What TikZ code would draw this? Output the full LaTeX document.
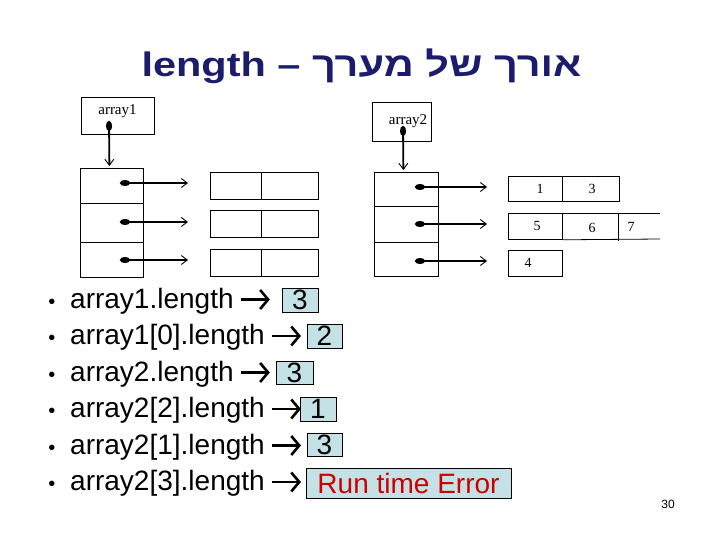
\documentclass[tikz,border=0pt]{standalone}
\usepackage{graphicx}
\usepackage{fontspec}
\setmainfont{Liberation Sans}
\newfontfamily\hebfont[Script=Hebrew]{Liberation Sans}
\newfontfamily\smallserif{Liberation Serif}
\TeXXeTstate=1
\usetikzlibrary{arrows.meta}
\definecolor{titleblue}{RGB}{28,28,108}
\definecolor{ansfill}{RGB}{196,226,230}
\definecolor{errred}{RGB}{204,0,0}
\begin{document}
\begin{tikzpicture}[x=1pt,y=-1pt,
  boxline/.style={draw=black, line width=0.8pt},
  cellbox/.style={boxline, inner sep=0pt, anchor=north west},
  serifnum/.style={font=\smallserif\fontsize{14}{14}\selectfont},
  ptr/.style={line width=1.8pt, {Ellipse[length=10pt,width=6pt]}-{Straight Barb[length=6pt,width=9pt,line width=0.9pt]}},
  textarrow/.style={line width=2.6pt, -{Straight Barb[length=8pt,width=19pt,line width=2.6pt]}},
  itemtext/.style={anchor=base west, inner sep=0pt, font=\fontsize{28}{28}\selectfont},
  bulletdot/.style={anchor=base, inner sep=0pt, font=\fontsize{20}{20}\selectfont},
  ans/.style={draw=black, line width=0.8pt, fill=ansfill, inner sep=0pt, font=\fontsize{28}{28}\selectfont}
]
\useasboundingbox (0,0) rectangle (720,540);

% title
\node[anchor=base, inner sep=0pt, text=titleblue, font=\hebfont\bfseries\fontsize{34}{40}\selectfont] (title) at (361.5,77)
  {\scalebox{1.22}[1]{\beginR אורך של מערך – \beginL length\endL\endR}};

% ---------- array1 ----------
\node[cellbox, minimum width=73pt, minimum height=37pt] (a1lbl) at (81,97) {};
\node[font=\smallserif\fontsize{15}{15}\selectfont, inner sep=0pt] (a1txt) at (117.5,111) {array1};
\node[cellbox, minimum width=63pt, minimum height=35pt] (a1c0) at (80,168) {};
\node[cellbox, minimum width=63pt, minimum height=39pt] (a1c1) at (80,203) {};
\node[cellbox, minimum width=63pt, minimum height=35pt] (a1c2) at (80,242) {};
\coordinate (a1dot) at (109,121);
\coordinate (a1top) at ([xshift=-2.5pt,yshift=2pt]a1c0.north);
\draw[ptr] (a1dot) -- (a1top);

\foreach \i/\y in {0/172,1/210,2/249}{
  \node[cellbox, minimum width=51pt, minimum height=27pt] (s1l\i) at (210,\y) {};
  \node[cellbox, minimum width=57pt, minimum height=27pt] (s1r\i) at (261,\y) {};
}
\foreach \i/\y in {0/183,1/222,2/260}{
  \coordinate (a1p\i) at (120,\y);
  \coordinate (a1q\i) at (188,\y);
  \draw[ptr] (a1p\i) -- (a1q\i);
}

% ---------- array2 ----------
\node[cellbox, minimum width=59pt, minimum height=39pt] (a2lbl) at (372,102) {};
\node[font=\smallserif\fontsize{15}{15}\selectfont, inner sep=0pt] (a2txt) at (408,121) {array2};
\node[cellbox, minimum width=64pt, minimum height=34pt] (a2c0) at (374,172) {};
\node[cellbox, minimum width=64pt, minimum height=36pt] (a2c1) at (374,206) {};
\node[cellbox, minimum width=64pt, minimum height=34pt] (a2c2) at (374,242) {};
\coordinate (a2dot) at (403,126);
\coordinate (a2top) at ([xshift=-3pt,yshift=2pt]a2c0.north);
\draw[ptr] (a2dot) -- (a2top);

\foreach \i/\y in {0/187,1/224,2/261}{
  \coordinate (a2p\i) at (415,\y);
  \coordinate (a2q\i) at (487,\y);
  \draw[ptr] (a2p\i) -- (a2q\i);
}
% row 0: 1 3
\node[cellbox, minimum width=54pt, minimum height=25pt] (s2a) at (508,176) {};
\node[cellbox, minimum width=57pt, minimum height=25pt] (s2b) at (562,176) {};
\node[serifnum] at (540,189) {1};
\node[serifnum] at (592,189) {3};
% row 1: 5 6 7 (open on the right)
\node[cellbox, minimum width=54pt, minimum height=26pt] (s2c) at (508,213) {};
\draw[boxline] (s2c.north east) -- (660,213);
\draw[boxline] (s2c.south east) -- (660,239);
\draw[boxline] (618,213) -- (618,241);
\node[serifnum] at (537,226) {5};
\node[serifnum] at (592,228) {6};
\node[serifnum] at (631,227) {7};
% row 2: 4
\node[cellbox, minimum width=54pt, minimum height=26pt] (s2d) at (508,250) {};
\node[serifnum] at (528,263) {4};

% ---------- bullet list ----------
\foreach \i/\y/\t in {1/308/{array1.length},
                   2/344.5/{array1[0].length},
                   3/381/{array2.length},
                   4/417.5/{array2[2].length},
                   5/454/{array2[1].length},
                   6/490.5/{array2[3].length}}{
  \node[bulletdot] (b\i) at (52,\y) {•};
  \node[itemtext] (t\i) at (70,\y) {\t};
}
\node[ans, minimum width=36pt, minimum height=24pt] (r1) at (300,300) {3};
\node[ans, minimum width=35pt, minimum height=24pt] (r2) at (324.5,336) {2};
\node[ans, minimum width=37pt, minimum height=23pt] (r3) at (294.5,372.5) {3};
\node[ans, minimum width=36pt, minimum height=24pt] (r4) at (318,409) {1};
\node[ans, minimum width=35pt, minimum height=23pt] (r5) at (324.5,444.5) {3};
\node[ans, minimum width=205pt, minimum height=30pt, text=errred] (r6) at (408.5,483) {Run time Error};
\foreach \i in {1,...,6}{
  \draw[textarrow] ([xshift=7pt,yshift=8.5pt]t\i.base east) -- ++(29,0);
}

% page number
\node[inner sep=0pt, font=\fontsize{12}{12}\selectfont] (pg) at (668,504) {30};
\end{tikzpicture}
\end{document}
